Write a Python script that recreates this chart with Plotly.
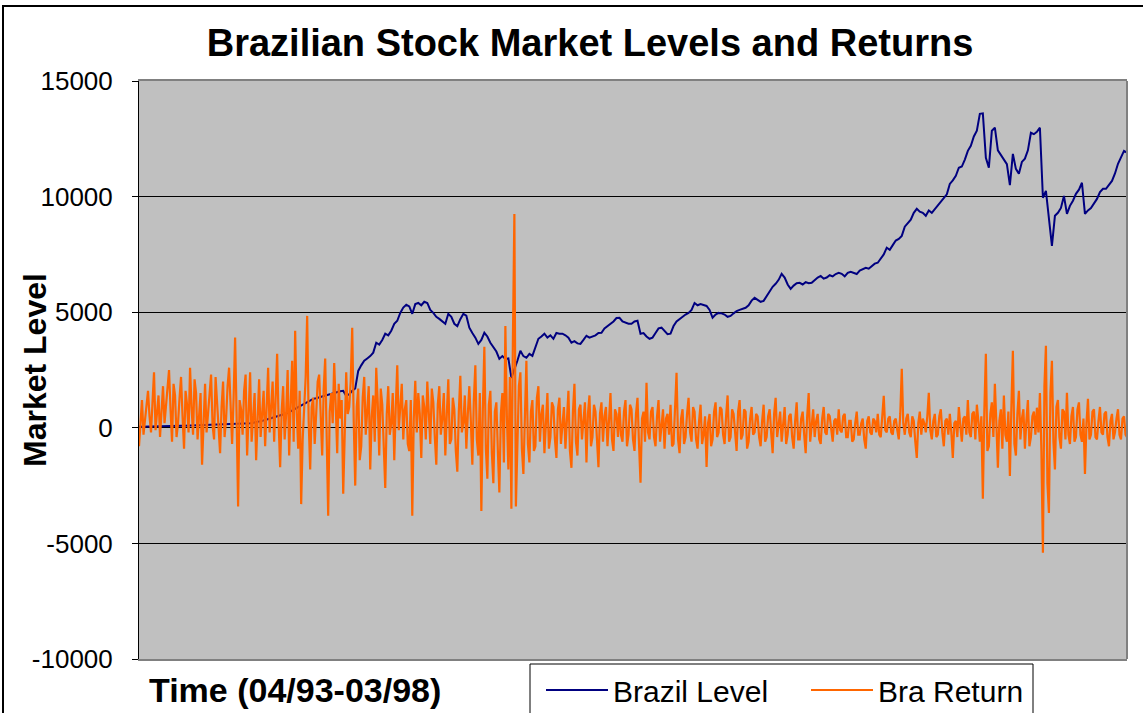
import plotly.graph_objects as go

# Brazil market level (index, sampled along 04/93-03/98)
brazil_level = [
    50, 55, 60, 58, 62, 65, 70, 68, 72, 75, 80, 78, 82, 85, 90, 88, 92, 95, 100, 98, 105, 110, 115, 120,
    125, 130, 128, 135, 140, 145, 150, 155, 160, 165, 170, 180, 190, 200,
    220, 240, 260, 300, 340, 380, 400, 430, 480, 520,
    560, 620, 680, 750, 830, 900, 950, 1020, 1100, 1180, 1250,
    1280, 1320, 1350, 1400, 1450, 1470, 1500, 1540, 1580, 1600,
    1380, 1450, 1600, 1700,
    2460, 2700, 2900, 3000,
    3100, 3250, 3680, 3600, 3800, 4070,
    4000, 4200, 4500, 4630, 4970, 5200,
    5320, 5250, 4930, 5350, 5400, 5300, 5450, 5400, 5100, 4970,
    4800, 4710, 4600, 4500, 4930, 4800, 4500, 4400, 4700, 4930, 4850, 4330,
    4100, 3900, 3630, 3800, 4110, 3950, 3680, 3500, 3300, 2980, 3100, 2980, 3000, 2160, 2500,
    2900, 3330, 3100, 3030, 3200, 3110, 3500, 3850, 3950, 4070, 3900, 4000, 3850, 4100, 4070,
    4070, 4000, 3900, 3680, 3750, 3650, 3630, 3800, 3980, 3900, 3950, 4000, 4100, 4110, 4300, 4400, 4540, 4600, 4750, 4760,
    4600, 4540, 4500, 4500, 4600, 4630, 4070, 4100, 3950, 3850, 3900, 4100, 4300, 4330, 4200, 4050, 4070, 4400, 4600, 4710,
    4800, 4900, 4970, 5100, 5400, 5300, 5350, 5300, 5270, 5100, 4760, 4900, 4970, 4950, 4900, 4800, 4840, 4950, 5050, 5100,
    5150, 5190, 5300, 5500, 5620, 5550, 5450, 5490, 5700, 5900, 6100, 6230, 6400, 6660, 6500, 6200, 6010, 6150, 6250, 6270,
    6200, 6300, 6250, 6270, 6400, 6500, 6570, 6450, 6500, 6600, 6550, 6650, 6700, 6660, 6550, 6700, 6750, 6700, 6650, 6800,
    6850, 6920, 6880, 7000, 7100, 7140, 7350, 7500, 7790, 7700, 7900, 8100, 8170, 8300, 8700, 8870, 9000, 9300, 9470, 9350,
    9300, 9170, 9400, 9300, 9470, 9600, 9800, 9950, 10100, 10550, 10700, 10900, 11250, 11300, 11600, 11980, 12200, 12600, 12850, 13580,
    13600, 11680, 11250, 12850, 12980, 12000, 11800, 11600, 11400, 10500, 11850, 11200, 10990, 11500, 11640, 12000, 12760, 12700, 12800, 12980,
    9950, 10250, 8950, 7870, 9170, 9300, 9510, 10030, 9250, 9600, 9820, 10120, 10300, 10600, 9250, 9400, 9500, 9700, 9900, 10200,
    10340, 10340, 10500, 10680, 11000, 11420, 11700, 11980, 11900,
]

# Brazil returns (scaled), sampled twice as finely as the level
bra_return = [
    -800, 400, 1200, -300, 300, 1000, 1600, 500, -200, 1100, 2400, -100, 600, 1400, -400, 700, 1800, 200, 900, 1700,
    2500, 800, -600, 1900, 1400, -400, 200, 1300, 2200, 500, -900, 1600, 1000, -200, 2600, 900, -300, 2100, 1500, -500,
    600, 1500, -1600, 300, 1900, -200, 800, 1700, 2300, 100, -500, 2200, 1200, 300, -1100, 900, 2000, -400, 400, 1800,
    2600, 1000, -700, 1300, 3900, 500, -3400, 1200, 800, -300, 1600, 2300, -1200, 600, 2400, -600, 300, 1500, -1400, 800,
    2100, -400, 900, 1600, -800, 1100, 2600, -200, 1200, 2000, -600, 1400, 3200, 200, -1700, 700, 1800, -500, 600, 2500,
    -1200, 1000, 2900, -600, 4200, 800, -900, 1600, -3300, -500, 1200, 2200, 4840, 300, -1800, 900, 1300, -700, 600, 2000,
    2300, 500, -1200, 1700, 3000, -400, -3800, 700, 1500, 200, 2800, 1000, -1100, 1900, 400, 1200, -2850, -300, 2400, 600,
    900, 2000, 4330, 300, -2500, 900, 1700, -1400, -800, 1300, 2200, -300, 600, 1800, -1800, 500, 1400, -600, 2600, 1100,
    -1200, 1700, 1000, -800, -2600, 600, 1800, -300, 200, 1500, -1400, 900, 2700, -100, 700, 1900, -500, 800, 1200, -700,
    -1000, 1200, -3800, 400, 2030, -200, 1500, 600, -1300, 1400, 900, -500, 2000, 300, -700, 1700, 1100, -400, -1600, 1000,
    1800, -300, 400, 1500, -1200, 600, 2100, -700, -500, 1300, 800, -1000, -1900, 700, 2250, -200, 200, 1400, -900, 600,
    1800, 300, -1600, 1200, 2700, -500, -1200, 1500, -3600, 800, 3500, -900, -2200, 1000, 1600, -1100, -2400, 700, 1100, -1000,
    -2800, 600, 1500, -1500, 4400, 500, -1800, 2200, -3500, 3700, 9250, -3400, -1200, 1800, 2400, -900, -2000, 1100, 2900, -700,
    -1500, 700, 1200, -1000, -800, 1300, 1800, -600, 600, 1000, -1100, 200, 1500, -900, -400, 1100, 900, -500, -1300, 800,
    1300, -700, 200, 900, -900, 400, 1600, -1000, -1730, 700, 1900, -600, -1200, 800, 1000, -500, 300, 1100, -1500, 600,
    1400, -800, -400, 1000, 700, -300, -1700, 600, 1100, -600, 500, 900, -800, 300, 1500, -500, -1000, 800, 600, -400,
    900, -300, -600, 700, 1200, -800, -300, 1000, 800, -500, -1000, 600, 1300, -700, -2380, 400, 700, -600, 1950, -200,
    -500, 700, 900, -400, -800, 500, 1200, -600, 300, 800, -900, 400, 600, -300, 1000, -800, -700, 900, 2380, -500,
    -1100, 400, 800, -700, -400, 600, 1300, -200, -600, 900, 700, -500, -900, 300, 1000, -700, -300, 500, -1690, 200,
    600, -800, -500, 700, 1100, -400, -200, 900, 800, -300, -700, 500, 1400, -600, -400, 800, 600, -200, -1000, 700,
    1200, -500, -300, 800, 700, -900, -600, 400, 900, -300, -200, 600, 500, -400, -800, 300, 1000, -600, -400, 500,
    800, -200, -1100, 600, 1300, -400, 300, 700, -600, 200, 900, -700, -300, 500, 600, -400, -900, 300, 1100, -500,
    -500, 400, 700, -300, -1100, 500, 1500, -600, 200, 800, -400, 300, 600, -500, -700, 400, 900, -200, -300, 600,
    500, -200, -600, 300, 400, -300, 800, -100, -200, 500, 600, -400, -400, 300, 300, -600, -500, 200, 700, -300,
    -300, 200, 400, -500, -900, 300, 500, -200, -300, 400, 300, -200, 600, -300, -400, 500, 1380, -100, -200, 400,
    500, -200, -300, 300, 400, -100, -500, 600, 2550, 200, -300, 400, 600, -200, -400, 500, 300, -600, -1300, 200,
    700, -300, 400, 200, -200, 500, 1510, -100, -500, 300, 600, -400, -300, 500, 800, -200, -800, 300, 400, -300,
    600, -200, -1300, 200, 300, -400, 900, 100, -600, 400, 500, -300, 1200, -200, -400, 600, 700, -500, 1000, 300,
    -600, 500, -3070, 800, 3200, -1000, -800, 600, 1100, -400, 1900, 200, -1730, 300, 800, -900, 1400, -300, -600, 700,
    -2080, 900, 3330, -700, -1200, 600, 1600, -500, 400, 800, -900, 300, 1200, -800, -400, 500, 700, -300, 870, -200,
    1500, -1000, -5400, 1800, 3550, -2400, -3680, 1500, 2900, -600, -1800, 900, 1200, -400, -900, 800, 700, -500, 1510, -300,
    -700, 500, 900, -600, -400, 800, 1100, -300, -600, 400, -2000, 200, 1250, -500, -300, 700, 800, -400, -500, 300,
    900, -200, -300, 600, 700, -400, -800, 300, 600, -500, -200, 400, 800, -300, -500, 400, 500, -300, -400,
]

y_ticks = [-10000, -5000, 0, 5000, 10000, 15000]
y_tick_labels = ["-10000", "-5000", "0", "5000", "10000", "15000"]
series_names = ["Brazil Level", "Bra Return"]
title_text = "Brazilian Stock Market Levels and Returns"
x_label = "Time (04/93-03/98)"
y_label = "Market Level"

FONT = "Liberation Sans, Arial, sans-serif"

n_level = len(brazil_level)
n_ret = len(bra_return)
x_level = list(range(n_level))
x_ret = [i * (n_level - 1) / (n_ret - 1) for i in range(n_ret)]

fig = go.Figure()
fig.add_trace(go.Scatter(x=x_level, y=brazil_level, mode="lines",
                         name=series_names[0], line=dict(color="#000080", width=2)))
fig.add_trace(go.Scatter(x=x_ret, y=bra_return, mode="lines",
                         name=series_names[1], line=dict(color="#FF6600", width=2.2)))

PW, PH, PL, PB = 988, 578, 139, 659  # plot-area geometry in pixels


def px_x(x):
    return (x - PL) / PW


def px_y(y):
    return (PB - y) / PH


fig.update_layout(
    width=1143, height=713,
    paper_bgcolor="white", plot_bgcolor="#C0C0C0",
    margin=dict(l=139, r=16, t=81, b=54, autoexpand=False),
    font=dict(family=FONT, color="black"),
    title=dict(text="<b>" + title_text + "</b>", x=590 / 1143, xanchor="center",
               y=1 - 43 / 713, yanchor="middle", font=dict(size=38, family=FONT, color="black")),
    showlegend=True,
    legend=dict(orientation="h", x=px_x(541), y=px_y(664),
                xanchor="left", yanchor="top", bgcolor="rgba(0,0,0,0)", borderwidth=0,
                font=dict(size=30, family=FONT, color="black"),
                itemwidth=62, entrywidth=188, entrywidthmode="pixels", tracegroupgap=0),
    xaxis=dict(range=[0, n_level - 1], showgrid=False, zeroline=False, showticklabels=False, ticks="",
               showline=True, mirror=True, linecolor="#808080", linewidth=2),
    yaxis=dict(range=[-10000, 15000], tickvals=y_ticks, ticktext=y_tick_labels,
               showgrid=True, gridcolor="black", gridwidth=1,
               zeroline=True, zerolinecolor="black", zerolinewidth=1,
               showline=True, linecolor="black", linewidth=1,
               ticks="outside", ticklen=6, tickcolor="black", ticklabelstandoff=14,
               tickfont=dict(size=26, family=FONT, color="black")),
    annotations=[
        dict(text="<b>" + y_label + "</b>", xref="paper", yref="paper", x=px_x(35),
             y=px_y(370), xanchor="center", yanchor="middle", textangle=-90,
             showarrow=False, font=dict(size=32, family=FONT, color="black")),
        dict(text="<b>" + x_label + "</b>", xref="paper", yref="paper", x=px_x(147),
             y=px_y(690), xanchor="left", yanchor="middle",
             showarrow=False, font=dict(size=34, family=FONT, color="black")),
    ],
    shapes=[
        dict(type="line", xref="paper", yref="paper", x0=1, x1=1, y0=0, y1=1,
             line=dict(color="#808080", width=2)),
        dict(type="rect", xref="paper", yref="paper", x0=px_x(3), x1=1.05,
             y0=-0.2, y1=px_y(6), line=dict(color="black", width=2)),
        dict(type="rect", xref="paper", yref="paper", x0=px_x(530), x1=px_x(1033),
             y0=px_y(730), y1=px_y(664), line=dict(color="black", width=1),
             fillcolor="white", layer="above"),
    ],
)

fig.write_html(
    "out.html",
    config={"displayModeBar": False},
    post_script="document.body.style.margin='0px';document.body.style.padding='0px';document.body.style.overflow='hidden';",
)
